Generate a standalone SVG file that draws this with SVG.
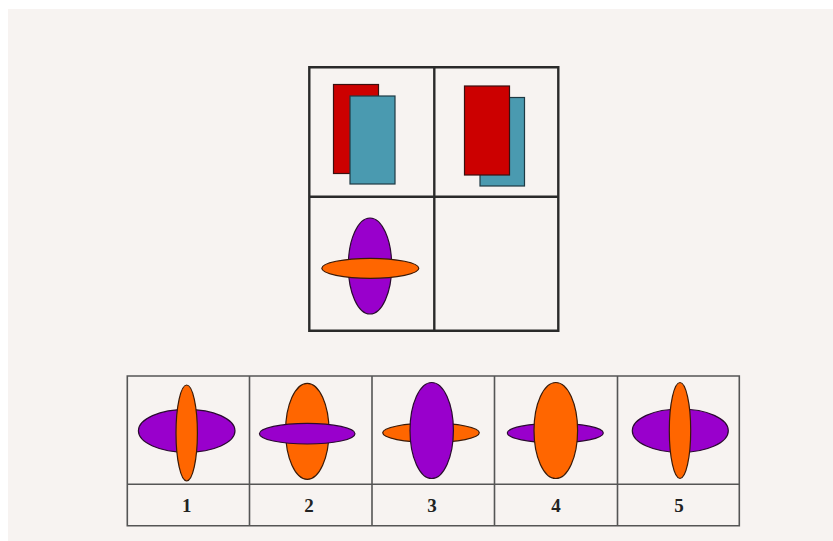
<svg xmlns="http://www.w3.org/2000/svg" width="833" height="541" viewBox="0 0 833 541">
<style>
.grid{fill:none;stroke:#2a2a2a;stroke-width:2.4}
.tbl{fill:none;stroke:#555;stroke-width:1.6}
.red{fill:#cc0000;stroke:#3a1010;stroke-width:1.2}
.teal{fill:#4a9ab0;stroke:#1e3a44;stroke-width:1.2}
.pur{fill:#9900cc;stroke:#2a0a30;stroke-width:1.2}
.org{fill:#ff6600;stroke:#3a1a08;stroke-width:1.2}
.num{font-family:"Liberation Serif",serif;font-weight:bold;font-size:19px;fill:#222;text-anchor:middle}
</style>
<rect width="833" height="541" fill="#ffffff"/>
<rect x="8" y="9" width="825" height="532" fill="#f7f3f1"/>
<g id="matrix">
<g id="cell1">
<rect class="red" x="333.5" y="84.5" width="45" height="89"/>
<rect class="teal" x="350" y="96" width="45" height="88"/>
</g>
<g id="cell2">
<rect class="teal" x="480" y="97.5" width="44.5" height="88.5"/>
<rect class="red" x="464.5" y="86" width="45" height="89"/>
</g>
<g id="cell3">
<ellipse class="pur" cx="370" cy="266" rx="21.7" ry="48"/>
<ellipse class="org" cx="370.3" cy="268.3" rx="48.5" ry="10"/>
</g>
<g id="cell4"></g>
<path class="grid" d="M309.3 67.3H558.3V330.7H309.3Z M434.3 67.3V330.7 M309.3 196.7H558.3"/>
</g>
<g id="options">
<g id="opt1">
<ellipse class="pur" cx="186.7" cy="430.8" rx="48.3" ry="21.5"/>
<ellipse class="org" cx="186.7" cy="433" rx="10.7" ry="48"/>
<text class="num" x="186.7" y="511.5">1</text>
</g>
<g id="opt2">
<ellipse class="org" cx="307.3" cy="431.3" rx="21.7" ry="48"/>
<ellipse class="pur" cx="307.2" cy="433.7" rx="47.8" ry="10.3"/>
<text class="num" x="309" y="511.5">2</text>
</g>
<g id="opt3">
<ellipse class="org" cx="431" cy="432.8" rx="48.3" ry="9.6"/>
<ellipse class="pur" cx="431.7" cy="430.5" rx="21.7" ry="48"/>
<text class="num" x="432" y="511.5">3</text>
</g>
<g id="opt4">
<ellipse class="pur" cx="555.3" cy="433" rx="48" ry="9.7"/>
<ellipse class="org" cx="555.8" cy="430.5" rx="21.8" ry="48"/>
<text class="num" x="556" y="511.5">4</text>
</g>
<g id="opt5">
<ellipse class="pur" cx="680.3" cy="430.7" rx="48" ry="21.7"/>
<ellipse class="org" cx="680" cy="430.5" rx="10.7" ry="48"/>
<text class="num" x="679" y="511.5">5</text>
</g>
<path class="tbl" d="M127.3 376H739.3V525.7H127.3Z M249.5 376V525.7 M372 376V525.7 M494.5 376V525.7 M617.5 376V525.7 M127.3 484.3H739.3"/>
</g>
</svg>
